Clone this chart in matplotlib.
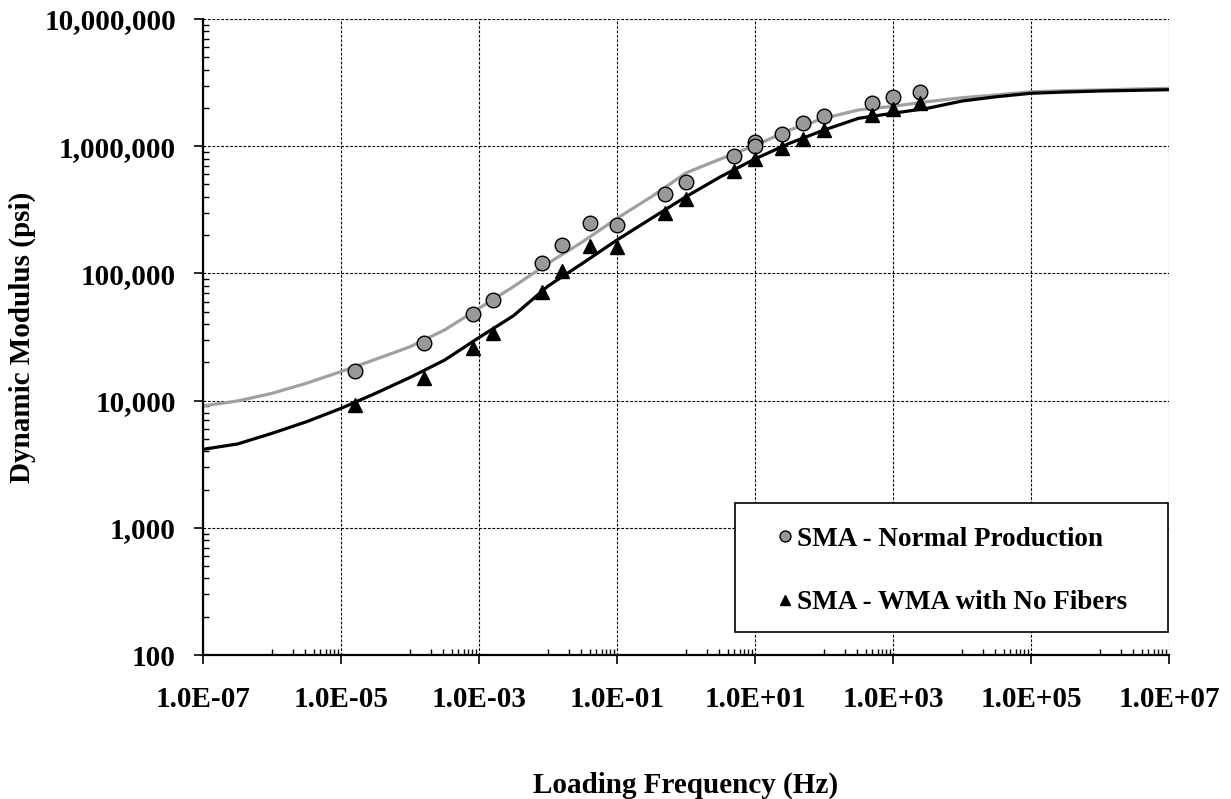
import matplotlib
matplotlib.use("Agg")
import matplotlib.pyplot as plt
from matplotlib.ticker import FixedLocator, FuncFormatter, NullFormatter
from matplotlib.patches import Rectangle
import numpy as np

# ---- data ----
freq_normal = [1.6e-5, 1.6e-4, 8.1e-4, 1.6e-3, 8.1e-3, 1.6e-2, 4.0e-2, 0.1, 0.5, 1.0,
               5.0, 10.0, 10.0, 25.0, 50.0, 100.0, 500.0, 1000.0, 2500.0]
mod_normal = [17200, 28500, 48000, 61800, 121000, 168000, 248000, 239000, 421000, 526000,
              841000, 1084000, 1010000, 1254000, 1514000, 1727000, 2187000, 2437000, 2666000]

freq_wma = [1.6e-5, 1.6e-4, 8.1e-4, 1.6e-3, 8.1e-3, 1.6e-2, 4.0e-2, 0.1, 0.5, 1.0,
            5.0, 10.0, 25.0, 50.0, 100.0, 500.0, 1000.0, 2500.0]
mod_wma = [9230, 15100, 25800, 34200, 71000, 105000, 165000, 161000, 300000, 383000,
           638000, 789000, 962000, 1146000, 1340000, 1758000, 1950000, 2174000]

# master-curve lines, read every half decade of frequency
curve_log_freq = [-7, -6.5, -6, -5.5, -5, -4.5, -4, -3.5, -3, -2.5, -2, -1.5, -1, -0.5,
                  0, 0.5, 1, 1.5, 2, 2.5, 3, 3.5, 4, 4.5, 5, 5.5, 6, 6.5, 7]
curve_normal = [9080, 9930, 11400, 13700, 16900, 21100, 26500, 35900, 53100, 78700,
                120000, 177000, 271000, 401000, 616000, 794000, 1012000, 1340000,
                1656000, 1928000, 2061000, 2239000, 2404000, 2529000, 2679000,
                2735000, 2767000, 2812000, 2851000]
curve_wma = [4140, 4560, 5530, 6820, 8690, 11400, 15200, 20800, 31300, 46500,
             79500, 120000, 183000, 271000, 401000, 575000, 794000, 1054000,
             1340000, 1656000, 1816000, 1986000, 2265000, 2449000, 2606000,
             2667000, 2716000, 2748000, 2780000]
curve_freq = [10.0**e for e in curve_log_freq]

label_normal = "SMA - Normal Production"
label_wma = "SMA - WMA with No Fibers"
xlabel = "Loading Frequency (Hz)"
ylabel = "Dynamic Modulus (psi)"

# ---- style ----
plt.rcParams['font.family'] = ['Liberation Serif', 'DejaVu Serif']
plt.rcParams['font.weight'] = 'bold'

fig = plt.figure(figsize=(12.31, 7.99), dpi=100)
ax = fig.add_axes([203/1231, 1-655/799, 966/1231, 636/799])

ax.plot(curve_freq, curve_normal, color='#a0a0a0', lw=2.3, zorder=2,
        solid_joinstyle='round')
ax.plot(curve_freq, curve_wma, color='black', lw=2.3, zorder=2,
        solid_joinstyle='round')
h1, = ax.plot(freq_normal, mod_normal, 'o', ms=10.5, mfc='#999999', mec='black',
              mew=1.0, ls='none', zorder=3, label=label_normal)
h2, = ax.plot(freq_wma, mod_wma, '^', ms=10.5, mfc='black', mec='black',
              ls='none', zorder=3, label=label_wma)

ax.set_xscale('log')
ax.set_yscale('log')
ax.set_xlim(1e-7, 1e7)
ax.set_ylim(100, 1e7)

# ticks
xmaj = [10.0**e for e in range(-7, 8, 2)]
xmin = [k * 10.0**e for e in range(-6, 7, 2) for k in range(1, 10)]
ax.xaxis.set_major_locator(FixedLocator(xmaj))
ax.xaxis.set_minor_locator(FixedLocator(xmin))
ymaj = [10.0**e for e in range(2, 8)]
ymin = [k * 10.0**e for e in range(2, 7) for k in range(2, 10)]
ax.yaxis.set_major_locator(FixedLocator(ymaj))
ax.yaxis.set_minor_locator(FixedLocator(ymin))
ax.xaxis.set_major_formatter(FuncFormatter(lambda v, p: f"{v:.1E}"))
ax.yaxis.set_major_formatter(FuncFormatter(lambda v, p: f"{int(round(v)):,}"))
ax.xaxis.set_minor_formatter(NullFormatter())
ax.yaxis.set_minor_formatter(NullFormatter())

ax.tick_params(axis='both', which='major', direction='out', length=6.5, width=1.2,
               labelsize=21, color='black')
ax.tick_params(axis='x', which='major', pad=16)
ax.tick_params(axis='y', which='major', pad=13)
ax.tick_params(axis='both', which='minor', direction='in', length=4, width=1.0, color='black')
for lab in ax.get_xticklabels() + ax.get_yticklabels():
    lab.set_fontweight('bold')

ax.grid(True, which='major', color='black', lw=0.8, ls=(0, (2.5, 1.5)), zorder=1)
ax.set_axisbelow(True)

for s in ['top', 'right']:
    ax.spines[s].set_visible(False)
for s in ['left', 'bottom']:
    ax.spines[s].set_linewidth(1.6)
    ax.spines[s].set_color('black')

ax.set_xlabel(xlabel, fontsize=21, fontweight='bold', labelpad=42)
ax.set_ylabel(ylabel, fontsize=21, fontweight='bold', labelpad=6)

# legend box
ax.add_patch(Rectangle((0.5507, 0.0366), 0.4483, 0.2029, transform=ax.transAxes,
                       facecolor='white', edgecolor='black', lw=1.2, zorder=4,
                       clip_on=False))
leg = ax.legend(handles=[h1, h2], loc='upper left', bbox_to_anchor=(0.594, 0.2014),
                frameon=False, markerscale=0.75, handlelength=0.6,
                handletextpad=0.15, labelspacing=1.41, borderpad=0, borderaxespad=0,
                prop={'weight': 'bold', 'size': 19.5})
leg.set_zorder(5)

fig.savefig('out.png', dpi=100)
